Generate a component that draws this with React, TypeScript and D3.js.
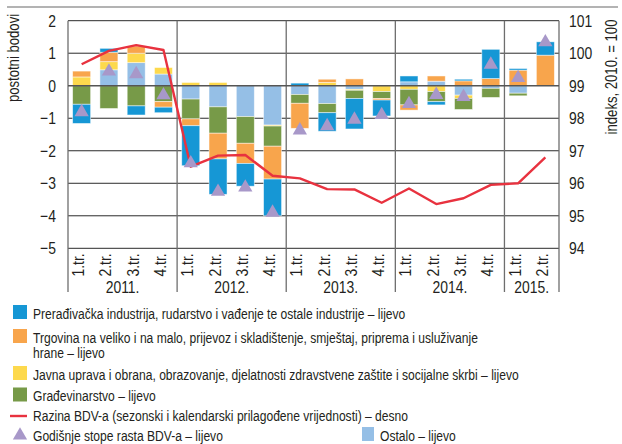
import React, { useEffect, useRef } from 'react';
import * as d3 from 'd3';

// categories
const quarterLabels = [
  '1.tr.', '2.tr.', '3.tr.', '4.tr.',
  '1.tr.', '2.tr.', '3.tr.', '4.tr.',
  '1.tr.', '2.tr.', '3.tr.', '4.tr.',
  '1.tr.', '2.tr.', '3.tr.', '4.tr.',
  '1.tr.', '2.tr.',
];
const yearLabels = ['2011.', '2012.', '2013.', '2014.', '2015.'];
const quartersPerYear = [4, 4, 4, 4, 2];

// contributions, postotni bodovi (left axis)
const industry = [-0.59, 0.12, -0.28, -0.17, -1.23, -1.09, -0.7, -1.13, 0.08, -0.57, -0.94, -0.49, 0.18, -0.1, 0.05, 0.9, 0.05, 0.41];
const trade = [0.18, 0.29, 0.22, -0.17, -0.21, -0.79, -0.62, -1.01, -0.77, 0.1, 0.21, -0.05, -0.16, 0.16, 0.15, 0.22, 0.48, 0.94];
const publicSector = [0.27, 0.25, 0.29, 0.2, 0.1, 0.1, 0, -0.03, 0, 0.1, -0.03, -0.18, -0.11, -0.18, -0.1, 0, 0, 0];
const construction = [-0.57, -0.7, -0.62, -0.49, -0.61, -0.81, -0.82, -0.62, -0.27, -0.28, -0.25, -0.21, -0.48, -0.31, -0.34, -0.28, -0.08, 0];
const other = [0, 0.49, 0.71, 0.36, -0.41, -0.65, -0.95, -1.21, -0.27, -0.55, -0.11, 0, 0.12, 0.14, -0.29, -0.08, -0.23, 0];

// annual growth (left) and level index 2010 = 100 (right)
const gvaGrowth = [-0.81, 0.44, 0.36, -0.29, -2.38, -3.26, -3.13, -3.9, -1.37, -1.24, -1.04, -0.9, -0.56, -0.28, -0.34, 0.65, 0.24, 1.34];
const gvaLevel = [99.66, 100.07, 100.25, 100.1, 96.51, 96.85, 96.87, 96.23, 96.15, 95.82, 95.81, 95.4, 95.84, 95.36, 95.54, 95.95, 96.0, 96.8];

const leftTicks = [2, 1, 0, -1, -2, -3, -4, -5];
const rightTicks = [101, 100, 99, 98, 97, 96, 95, 94];

const seriesKeys = ['other', 'publicSector', 'construction', 'trade', 'industry'];
const seriesColors: Record<string, string> = {
  industry: '#1697d5',
  trade: '#f8a54c',
  publicSector: '#fdd94d',
  construction: '#779a48',
  other: '#95bfe6',
};

const legendItems = [
  { type: 'rect', color: seriesColors.industry, lines: ['Prerađivačka industrija, rudarstvo i vađenje te ostale industrije – lijevo'] },
  { type: 'rect', color: seriesColors.trade, lines: ['Trgovina na veliko i na malo, prijevoz i skladištenje, smještaj, priprema i usluživanje', 'hrane – lijevo'] },
  { type: 'rect', color: seriesColors.publicSector, lines: ['Javna uprava i obrana, obrazovanje, djelatnosti zdravstvene zaštite i socijalne skrbi – lijevo'] },
  { type: 'rect', color: seriesColors.construction, lines: ['Građevinarstvo – lijevo'] },
  { type: 'line', color: '#e8323f', lines: ['Razina BDV-a (sezonski i kalendarski prilagođene vrijednosti) – desno'] },
  { type: 'tri', color: '#a898c9', lines: ['Godišnje stope rasta BDV-a – lijevo'] },
];

// Liberation Sans squeezed horizontally to stand in for a narrow face
const FONT = "'Liberation Sans', Arial, sans-serif";
const INK = '#231f20';

const App = () => {
  const ref = useRef<SVGSVGElement>(null);

  useEffect(() => {
    const svg = d3.select(ref.current);
    svg.selectAll('*').remove();

    //condensed text helper
    const narrowText = (parent: any, x: number, y: number, str: string, size: number, anchor = 'start', rot = 0, squeeze = 0.82) =>
      parent.append('text')
        .attr('transform', `translate(${x},${y}) rotate(${rot}) scale(${squeeze},1)`)
        .attr('text-anchor', anchor)
        .style('font-family', FONT).style('font-size', size + 'px').style('fill', INK)
        .text(str);

    // plot box
    const left = 68, right = 559, top = 20.7, bottom = 248.3, lineBottom = 292;

    const rows = quarterLabels.map((q, i) => ({
      i,
      industry: industry[i],
      trade: trade[i],
      publicSector: publicSector[i],
      construction: construction[i],
      other: other[i],
    }));

    const x = d3.scaleBand<number>().domain(d3.range(quarterLabels.length)).range([left, right]).paddingInner(0.34).paddingOuter(0.17);
    const yL = d3.scaleLinear().domain([-5, 2]).range([bottom, top]);
    const yR = d3.scaleLinear().domain([94, 101]).range([bottom, top]);
    const edge = (i: number) => left + i * x.step();
    const mid = (i: number) => (x(i) as number) + x.bandwidth() / 2;

    // top rule
    svg.append('line').attr('x1', 7).attr('x2', 618).attr('y1', 7).attr('y2', 7)
      .attr('stroke', '#9a9a9a').attr('stroke-width', 1.5);

    // horizontal grid
    svg.append('g').selectAll('line').data(leftTicks.filter((t) => t !== 0)).join('line')
      .attr('x1', left).attr('x2', right)
      .attr('y1', (d) => yL(d)).attr('y2', (d) => yL(d))
      .attr('stroke', '#2b2b2b').attr('stroke-width', 1);

    // vertical lines: axes + year separators
    const seps = [0];
    quartersPerYear.reduce((acc, n) => { seps.push(acc + n); return acc + n; }, 0);
    svg.append('g').selectAll('line').data(seps).join('line')
      .attr('x1', (d) => edge(d)).attr('x2', (d) => edge(d))
      .attr('y1', top).attr('y2', lineBottom)
      .attr('stroke', '#6e6e6e').attr('stroke-width', 1.3);

    // stacked bars
    const stacked = d3.stack<any>().keys(seriesKeys).offset(d3.stackOffsetDiverging)(rows);
    svg.append('g').selectAll('g').data(stacked).join('g')
      .attr('fill', (s) => seriesColors[s.key])
      .selectAll('rect').data((s) => s).join('rect')
      .attr('x', (d: any) => x(d.data.i) as number)
      .attr('width', x.bandwidth())
      .attr('y', (d) => yL(Math.max(d[0], d[1])))
      .attr('height', (d) => Math.abs(yL(d[0]) - yL(d[1])))
      .attr('stroke', '#ffffff').attr('stroke-opacity', 0.6).attr('stroke-width', 0.8);

    // zero line on top
    svg.append('line').attr('x1', left).attr('x2', right).attr('y1', yL(0)).attr('y2', yL(0))
      .attr('stroke', '#555').attr('stroke-width', 1.3);

    // level line
    const line = d3.line<number>().x((d, i) => mid(i)).y((d) => yR(d));
    svg.append('path').datum(gvaLevel).attr('d', line)
      .attr('fill', 'none').attr('stroke', '#e8323f').attr('stroke-width', 2.4).attr('stroke-linejoin', 'round');

    // growth triangles
    const tri = d3.symbol().type(d3.symbolTriangle).size(88);
    svg.append('g').selectAll('path').data(gvaGrowth).join('path')
      .attr('d', tri)
      .attr('transform', (d, i) => `translate(${mid(i)},${yL(d)})`)
      .attr('fill', '#a898c9');

    // left ticks
    const gl = svg.append('g');
    leftTicks.forEach((t) => narrowText(gl, 56, yL(t) + 6, t < 0 ? '\u2212' + Math.abs(t) : String(t), 17, 'end'));

    // right ticks
    const gr = svg.append('g');
    rightTicks.forEach((t) => narrowText(gr, 569, yR(t) + 6, String(t), 17));

    // axis titles
    narrowText(svg, 19, 58, 'postotni bodovi', 16, 'middle', -90);
    narrowText(svg, 617, 77, 'indeks, 2010. = 100', 16, 'middle', -90);

    // quarter labels
    const gq = svg.append('g');
    quarterLabels.forEach((q, i) => narrowText(gq, mid(i) + 2.5, bottom + 5, q, 17, 'end', -90));

    // year labels
    const gy = svg.append('g');
    yearLabels.forEach((yr, i) => {
      const s = seps[i];
      narrowText(gy, (edge(s) + edge(s + quartersPerYear[i])) / 2, 292.5, yr, 17, 'middle');
    });

    // legend
    const baselines = [318.5, 342.5, 379.5, 401, 421, 440.5];
    const lg = svg.append('g');
    legendItems.forEach((item, k) => {
      const b = baselines[k];
      if (item.type === 'rect')
        lg.append('rect').attr('x', 13).attr('y', b - 13.5).attr('width', 14).attr('height', 14).attr('fill', item.color);
      else if (item.type === 'line')
        lg.append('line').attr('x1', 10).attr('x2', 27).attr('y1', b - 5).attr('y2', b - 5)
          .attr('stroke', item.color).attr('stroke-width', 2.4);
      else
        lg.append('path').attr('d', tri).attr('transform', `translate(20,${b - 5})`).attr('fill', item.color);
      item.lines.forEach((ln, j) => narrowText(lg, 33, b + j * 15.5, ln, 15.5, 'start', 0, 0.78));
    });
    // Ostalo entry sits on the last row
    lg.append('rect').attr('x', 362).attr('y', 440.5 - 13.5).attr('width', 12).attr('height', 14).attr('fill', seriesColors.other);
    narrowText(lg, 380, 440.5, 'Ostalo – lijevo', 15.5, 'start', 0, 0.78);
  }, []);

  return (
    <svg ref={ref} width={622} height={444}
      style={{ position: 'absolute', left: 0, top: 0, background: '#fff' }} />
  );
};

export default App;
